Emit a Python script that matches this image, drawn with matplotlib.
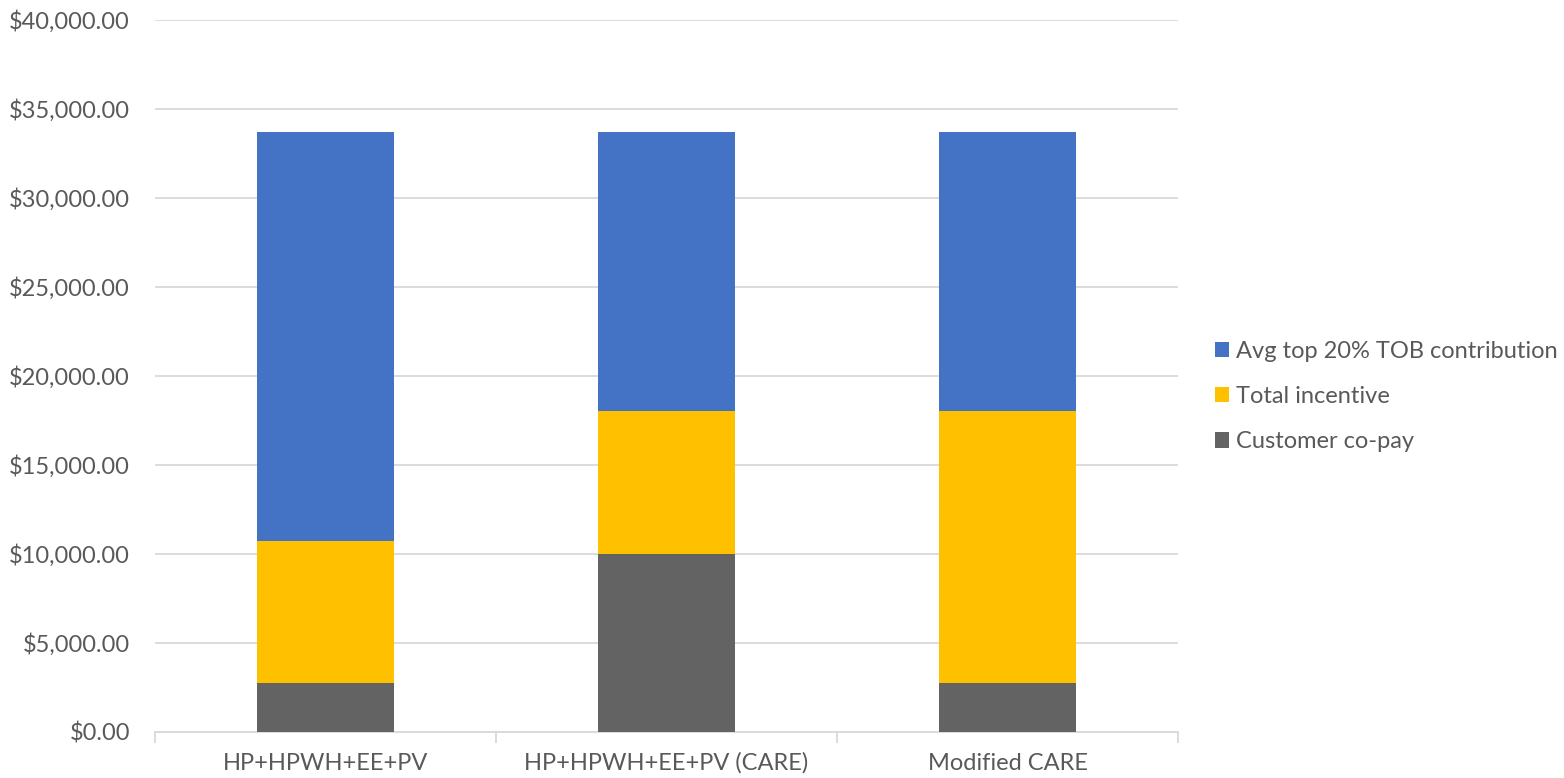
import numpy as np
import matplotlib.pyplot as plt
from matplotlib.ticker import FuncFormatter

# chart data
categories = ["HP+HPWH+EE+PV", "HP+HPWH+EE+PV (CARE)", "Modified CARE"]
copay = [2720, 10000, 2720]
incentive = [8000, 8030, 15310]
tob = [22950, 15640, 15640]
series_names = ["Customer co-pay", "Total incentive", "Avg top 20% TOB contribution"]

colors = ["#636363", "#FFC000", "#4472C4"]
text_color = "#595959"
grid_color = "#D9D9D9"

plt.rcParams['font.family'] = ['Lato', 'DejaVu Sans']

fig = plt.figure(figsize=(15.64, 7.78), dpi=100)
ax = fig.add_axes([0.0991, 0.0595, 0.6541, 0.9152])

x = np.arange(len(categories))
width = 0.40
bottom = np.zeros(len(categories))
bars = []
for vals, name, col in zip([copay, incentive, tob], series_names, colors):
    b = ax.bar(x, vals, width, bottom=bottom, color=col, label=name, zorder=3)
    bars.append(b)
    bottom += np.array(vals)

ax.set_ylim(0, 40000)
ax.set_xlim(-0.5, len(categories) - 0.5)
ax.set_yticks(np.arange(0, 40001, 5000))
ax.yaxis.set_major_formatter(FuncFormatter(lambda v, p: f"${v:,.2f}"))
ax.grid(axis="y", color=grid_color, linewidth=1.3, zorder=0)

ax.set_xticks(x)
ax.set_xticklabels(categories)
ax.set_xticks(np.arange(-0.5, len(categories), 1.0), minor=True)
ax.tick_params(axis="x", which="major", length=0, pad=15, labelsize=17, labelcolor=text_color)
ax.tick_params(axis="x", which="minor", length=8, width=1.3, color=grid_color)
ax.tick_params(axis="y", length=0, pad=18, labelsize=17, labelcolor=text_color)

for s in ["top", "right", "left"]:
    ax.spines[s].set_visible(False)
ax.spines["bottom"].set_color(grid_color)
ax.spines["bottom"].set_linewidth(1.3)

# legend: top series first like Excel
handles = bars[::-1]
labels = series_names[::-1]
leg = fig.legend(handles, labels, loc="center left", bbox_to_anchor=(0.763, 0.4905),
                 frameon=False, fontsize=17, handlelength=0.62, handleheight=0.62,
                 handletextpad=0.3, labelspacing=1.03)
for t in leg.get_texts():
    t.set_color(text_color)

plt.savefig("out.png", dpi=100)
